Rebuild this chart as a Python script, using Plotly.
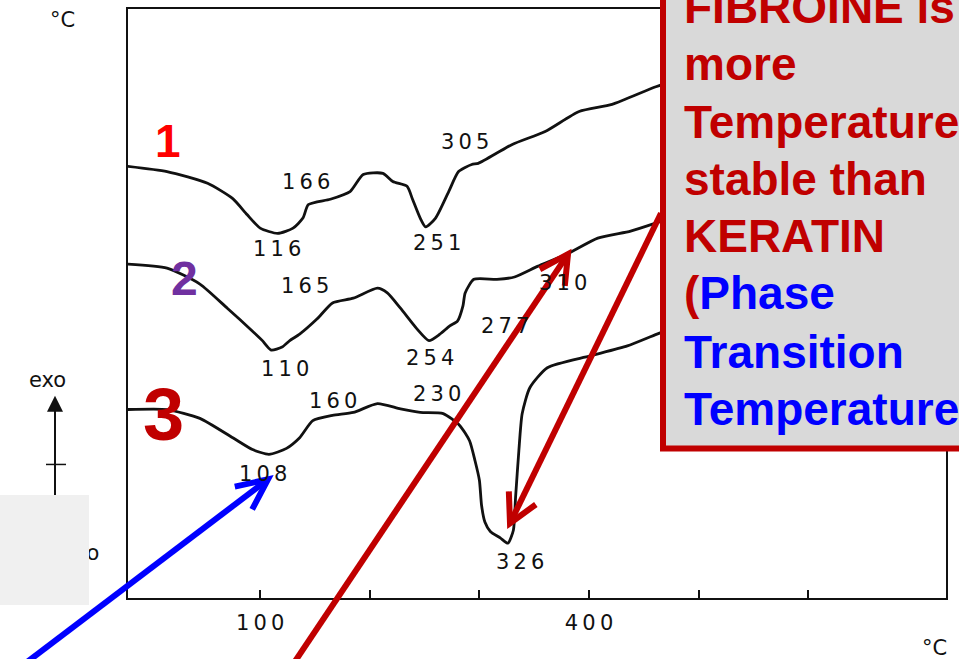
import math
import plotly.graph_objects as go

# DSC thermograms: temperature (°C) vs heat-flow signal (arbitrary units, exo up)
t1 = [-21, 15, 52, 75, 88, 100, 116, 130, 139, 144, 164, 182, 194, 212, 221,
      234, 239, 246, 251, 260, 272, 281, 293, 299, 330, 360, 391, 421, 461, 482]
s1 = [73.3, 72.4, 70.4, 67.8, 65.1, 62.8, 61.9, 62.8, 64.5, 66.8, 67.7, 69.0, 71.9, 72.1, 70.7,
      69.9, 67.7, 64.5, 63.0, 64.5, 69.0, 72.4, 73.6, 73.8, 77.0, 79.2, 82.6, 83.8, 86.8, 88.0]

t2 = [-21, 15, 45, 70, 93, 102, 110, 120, 127, 136, 152, 166, 185, 207, 216, 228,
      243, 254, 264, 273, 280, 285, 287, 295, 316, 332, 353, 380, 408, 438, 460, 481]
s2 = [56.7, 56.0, 53.3, 49.2, 45.3, 43.7, 42.1, 42.6, 43.7, 44.8, 47.4, 50.1, 50.9, 52.6, 51.8, 49.2,
      45.7, 43.7, 44.8, 46.2, 47.0, 49.6, 51.8, 54.1, 54.1, 54.5, 56.3, 58.4, 61.1, 62.3, 63.6, 65.0]

t3 = [-21, 15, 45, 75, 93, 108, 124, 136, 148, 166, 185, 207, 228, 246, 267, 282, 291,
      296, 300, 302, 305, 310, 319, 326, 331, 333, 336, 339, 346, 362, 401, 435, 462, 483]
s3 = [32.0, 32.0, 30.5, 27.2, 25.2, 24.4, 25.4, 27.2, 30.1, 31.0, 31.5, 33.0, 32.1, 31.5, 31.3, 29.3, 26.7,
      23.3, 20.0, 15.7, 12.9, 11.3, 10.2, 9.3, 11.5, 17.1, 25.0, 31.3, 35.7, 39.1, 41.1, 42.8, 44.8, 46.2]

# Peak / transition temperatures written next to the curves
peak_text = ["305", "166", "116", "251", "165", "310", "277", "110", "254", "160", "230", "108", "326"]
peak_t = [286.9, 141.8, 115.3, 261.3, 140.9, 376.3, 323.3, 122.6, 254.9, 166.4, 261.3, 102.6, 337.0]
peak_s = [77.5, 70.6, 59.2, 60.2, 53.0, 53.5, 46.2, 38.9, 40.8, 33.5, 34.7, 21.0, 6.1]

tick_vals = [100, 200, 300, 400, 500, 600]
tick_text = ["100", "", "", "400", "", ""]

W, H = 959, 659
ML, MR, MT, MB = 128, 13, 7, 61


def px(x):
    return (x - ML) / (W - ML - MR)


def py(y):
    return (H - MB - y) / (H - MT - MB)


def spaced(s):
    return "\u2009".join(s)


INK = "#111111"
RED = "#c00000"
BLUE = "#0000ff"
SCAN_FONT = dict(family="DejaVu Sans", size=21, color=INK)


def note(x, y, text, font, **kw):
    d = dict(x=px(x), y=py(y), xref="paper", yref="paper", text=text, showarrow=False,
             xanchor="center", yanchor="middle", font=font)
    d.update(kw)
    return d


def arrow_shapes(tip, tail, color, width, wing, half_angle):
    """Straight shaft from tail to tip, open V head at the tip (pixel geometry)."""
    tx, ty = tip
    bx, by = tail
    ln = math.hypot(bx - tx, by - ty)
    ux, uy = (bx - tx) / ln, (by - ty) / ln
    a = math.radians(half_angle)
    wings = []
    for sgn in (1, -1):
        c, s = math.cos(sgn * a), math.sin(sgn * a)
        wx, wy = ux * c - uy * s, ux * s + uy * c
        wings.append((tx + wing * wx, ty + wing * wy))
    (w1x, w1y), (w2x, w2y) = wings
    path = (f"M {px(w1x)},{py(w1y)} L {px(tx)},{py(ty)} L {px(w2x)},{py(w2y)}")
    return [
        dict(type="line", xref="paper", yref="paper", x0=px(bx), y0=py(by), x1=px(tx), y1=py(ty),
             line=dict(color=color, width=width), layer="above"),
        dict(type="path", xref="paper", yref="paper", path=path,
             line=dict(color=color, width=width), layer="above"),
    ]


fig = go.Figure()
for t, s in ((t1, s1), (t2, s2), (t3, s3)):
    fig.add_trace(go.Scatter(
        x=t, y=s, mode="lines",
        line=dict(color=INK, width=2.8, shape="spline", smoothing=0.6),
        hoverinfo="skip", showlegend=False,
    ))

ann = []
for txt, tx, sy in zip(peak_text, peak_t, peak_s):
    ann.append(dict(x=tx, y=sy, xref="x", yref="y", text=spaced(txt),
                    showarrow=False, font=SCAN_FONT))

# curve numbers
ann += [
    note(168, 139, "1", dict(family="Liberation Sans", size=46, color="#ff0000", weight="bold")),
    note(184, 277, "2", dict(family="Liberation Sans", size=48, color="#7030a0", weight="bold")),
    note(163, 414, "3", dict(family="Liberation Sans", size=74, color=RED, weight="bold")),
]

# axis unit marks and exo indicator
ann += [
    note(62, 18, "°C", SCAN_FONT),
    note(934, 648, "°C", SCAN_FONT),
    note(47, 379, "exo", SCAN_FONT),
    dict(x=px(55), y=py(395), xref="paper", yref="paper", text="", showarrow=True,
         ax=0, ay=110, arrowhead=2, arrowsize=1.6, arrowwidth=2, arrowcolor=INK,
         standoff=0, startstandoff=0),
    note(101, 553, "endo", SCAN_FONT, xanchor="right"),
    # light grey patch over the lower-left corner
    dict(x=px(0), y=py(495), xref="paper", yref="paper", text=" ", xanchor="left", yanchor="top",
         width=89, height=110, bgcolor="#f0f0f0", borderpad=0, borderwidth=0, showarrow=False),
]

# callout text, one annotation per line
BOX_FONT = dict(family="Liberation Sans", size=46, color=RED, weight="bold")
blue = lambda s: f"<span style='color:{BLUE}'>{s}</span>"
box_lines = ["FIBROINE is", "more", "Temperature", "stable than", "KERATIN",
             "(" + blue("Phase"), blue("Transition"), blue("Temperature")]
box_y = [5, 62, 120, 178, 235, 292, 351, 408]
for line, yy in zip(box_lines, box_y):
    ann.append(note(682, yy, line, BOX_FONT, xanchor="left", align="left"))

shapes = [
    dict(type="rect", xref="paper", yref="paper", x0=px(663), x1=px(1010), y0=py(448), y1=py(-40),
         fillcolor="#d9d9d9", line=dict(color=RED, width=6), layer="above"),
    dict(type="line", xref="paper", yref="paper", x0=px(46), x1=px(66), y0=py(464), y1=py(464),
         line=dict(color=INK, width=1.5)),
]
shapes += arrow_shapes((568, 253), (270, 699), RED, 6, 32, 28)
shapes += arrow_shapes((510, 523), (661, 212), RED, 6, 32, 28)
shapes += arrow_shapes((268, 479), (-20, 698), BLUE, 6, 34, 25)

fig.update_layout(
    width=W, height=H,
    margin=dict(l=ML, r=MR, t=MT, b=MB),
    paper_bgcolor="white", plot_bgcolor="white",
    xaxis=dict(range=[-20.6, 725.7], showgrid=False, zeroline=False,
               showline=True, mirror=True, linecolor=INK, linewidth=2,
               ticks="inside", ticklen=8, tickwidth=2, tickcolor=INK,
               tickvals=tick_vals, ticktext=[spaced(t) for t in tick_text],
               tickfont=SCAN_FONT, ticklabelstandoff=5),
    yaxis=dict(range=[0, 100], showgrid=False, zeroline=False, showticklabels=False,
               showline=True, mirror=True, linecolor=INK, linewidth=2, ticks=""),
    annotations=ann,
    shapes=shapes,
)

fig.write_html("out.html")
